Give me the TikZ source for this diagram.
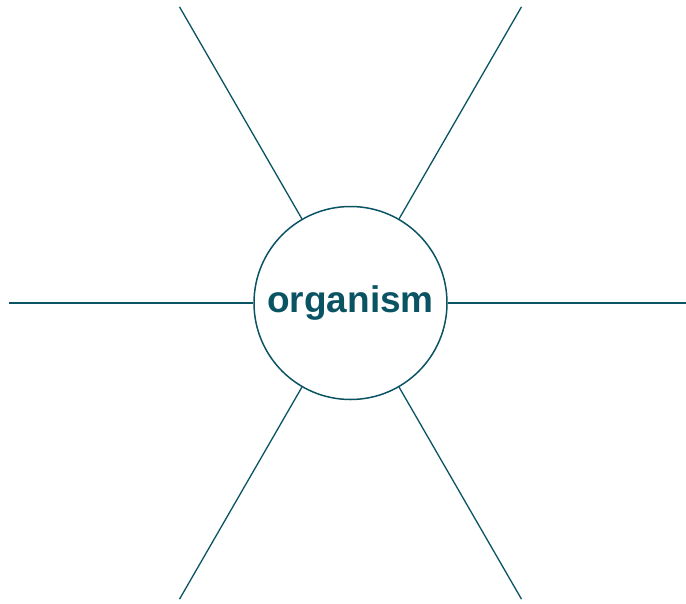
\documentclass[tikz,border=0pt]{standalone}
\usepackage{fontspec}
\setmainfont{Liberation Sans}
\usetikzlibrary{calc}
\definecolor{teal}{RGB}{10,83,99}
\begin{document}
\begin{tikzpicture}[x=1pt,y=-1pt,
  spoke/.style={draw=teal,line width=1.3pt},
  hub/.style={circle,draw=teal,line width=1.5pt,minimum size=193pt,inner sep=0pt,
    font=\fontsize{37}{40}\selectfont\bfseries,text=teal}]
\useasboundingbox (0,0) rectangle (686,603);
\node[hub] (c) at (350.5,303) {organism};
\foreach \a/\n in {0/r,60/lr,120/ll,180/l,240/ul,300/ur}{
  \coordinate (e\n) at ($(350.5,303)+(\a:342)$);
  \draw[spoke] (c) -- (e\n);
}
\end{tikzpicture}
\end{document}
